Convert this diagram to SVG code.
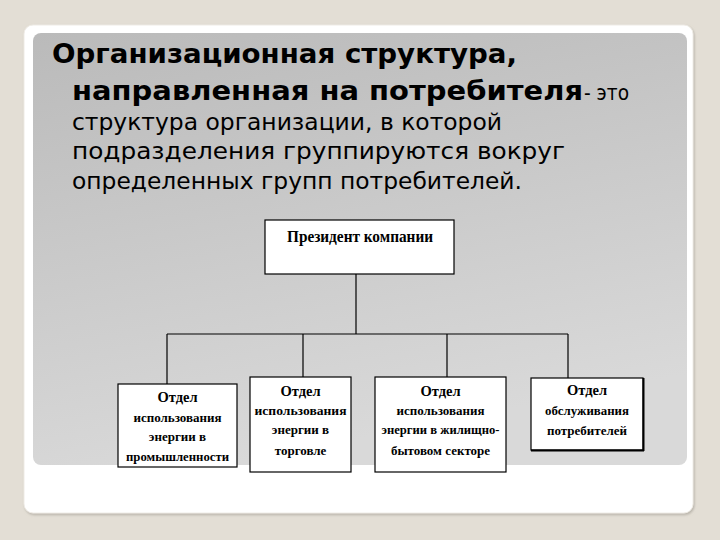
<svg xmlns="http://www.w3.org/2000/svg" width="720" height="540" viewBox="0 0 720 540">
<defs>
<linearGradient id="panelGrad" x1="0" y1="0" x2="0.3" y2="1">
<stop offset="0" stop-color="#bababa"/>
<stop offset="1" stop-color="#d9d9d9"/>
</linearGradient>
<filter id="sh" x="-5%" y="-5%" width="110%" height="110%">
<feDropShadow dx="1" dy="1.5" stdDeviation="1.2" flood-color="#9a958c" flood-opacity="0.6"/>
</filter>
<style>
.head{font-family:"DejaVu Sans","Noto Sans",sans-serif;font-weight:bold;font-size:26px;fill:#000}
.body{font-family:"DejaVu Sans","Noto Sans",sans-serif;font-size:22.5px;fill:#000}
.box{fill:#fff;stroke:#000;stroke-width:1.2}
.bt{font-family:"Liberation Serif","Times New Roman",serif;font-weight:bold;font-size:13px;fill:#000;text-anchor:middle}
.bt1{font-size:14.5px}
.pt{font-family:"Liberation Serif","Times New Roman",serif;font-weight:bold;font-size:17px;fill:#000;text-anchor:middle}
.conn{stroke:#000;stroke-width:1.2;fill:none}
</style>
</defs>
<rect x="0" y="0" width="720" height="540" fill="#e3ded5"/>
<rect x="24" y="25" width="669" height="488" rx="9" fill="#fff" stroke="#efece6" stroke-width="1" filter="url(#sh)"/>
<rect x="33" y="33" width="654" height="432" rx="8" fill="url(#panelGrad)"/>

<g id="title">
<text class="head" x="52" y="63" textLength="465" lengthAdjust="spacingAndGlyphs">Организационная структура,</text>
<text class="head" x="72" y="100" textLength="511" lengthAdjust="spacingAndGlyphs">направленная на потребителя</text>
<text class="body" x="584" y="100" style="font-size:21px" textLength="45" lengthAdjust="spacingAndGlyphs">- это</text>
<text class="body" x="72" y="130" textLength="430" lengthAdjust="spacingAndGlyphs">структура организации, в которой</text>
<text class="body" x="72" y="159" textLength="493" lengthAdjust="spacingAndGlyphs">подразделения группируются вокруг</text>
<text class="body" x="72" y="189" textLength="450" lengthAdjust="spacingAndGlyphs">определенных групп потребителей.</text>
</g>

<g id="connectors">
<line class="conn" x1="356" y1="274" x2="356" y2="334"/>
<line class="conn" x1="167" y1="334" x2="568" y2="334"/>
<line class="conn" x1="167" y1="334" x2="167" y2="384"/>
<line class="conn" x1="303" y1="334" x2="303" y2="377"/>
<line class="conn" x1="447" y1="334" x2="447" y2="377"/>
<line class="conn" x1="568" y1="334" x2="568" y2="378"/>
</g>

<g id="president">
<rect class="box" x="265" y="220" width="189" height="54"/>
<text class="pt" x="360" y="242" textLength="146" lengthAdjust="spacingAndGlyphs">Президент компании</text>
</g>

<g id="dept-industry">
<rect class="box" x="118" y="384" width="119" height="83"/>
<text class="bt bt1" x="177.5" y="402">Отдел</text>
<text class="bt" x="177.5" y="422">использования</text>
<text class="bt" x="177.5" y="441">энергии в</text>
<text class="bt" x="177.5" y="461" textLength="103" lengthAdjust="spacingAndGlyphs">промышленности</text>
</g>

<g id="dept-trade">
<rect class="box" x="250" y="377" width="101" height="95"/>
<text class="bt bt1" x="300.5" y="396">Отдел</text>
<text class="bt" x="300.5" y="415" textLength="92" lengthAdjust="spacingAndGlyphs">использования</text>
<text class="bt" x="300.5" y="434">энергии в</text>
<text class="bt" x="300.5" y="455">торговле</text>
</g>

<g id="dept-household">
<rect class="box" x="375" y="377" width="131" height="95"/>
<text class="bt bt1" x="440.5" y="396">Отдел</text>
<text class="bt" x="440.5" y="415">использования</text>
<text class="bt" x="440.5" y="434" textLength="118" lengthAdjust="spacingAndGlyphs">энергии в жилищно-</text>
<text class="bt" x="440.5" y="455">бытовом секторе</text>
</g>

<g id="dept-service">
<rect class="box" x="531" y="378" width="112" height="72"/>
<line x1="531" y1="450.5" x2="644" y2="450.5" stroke="#000" stroke-width="2"/>
<line x1="643.5" y1="378" x2="643.5" y2="451" stroke="#000" stroke-width="2"/>
<text class="bt bt1" x="587" y="395">Отдел</text>
<text class="bt" x="587" y="415" textLength="84" lengthAdjust="spacingAndGlyphs">обслуживания</text>
<text class="bt" x="587" y="435">потребителей</text>
</g>
</svg>
